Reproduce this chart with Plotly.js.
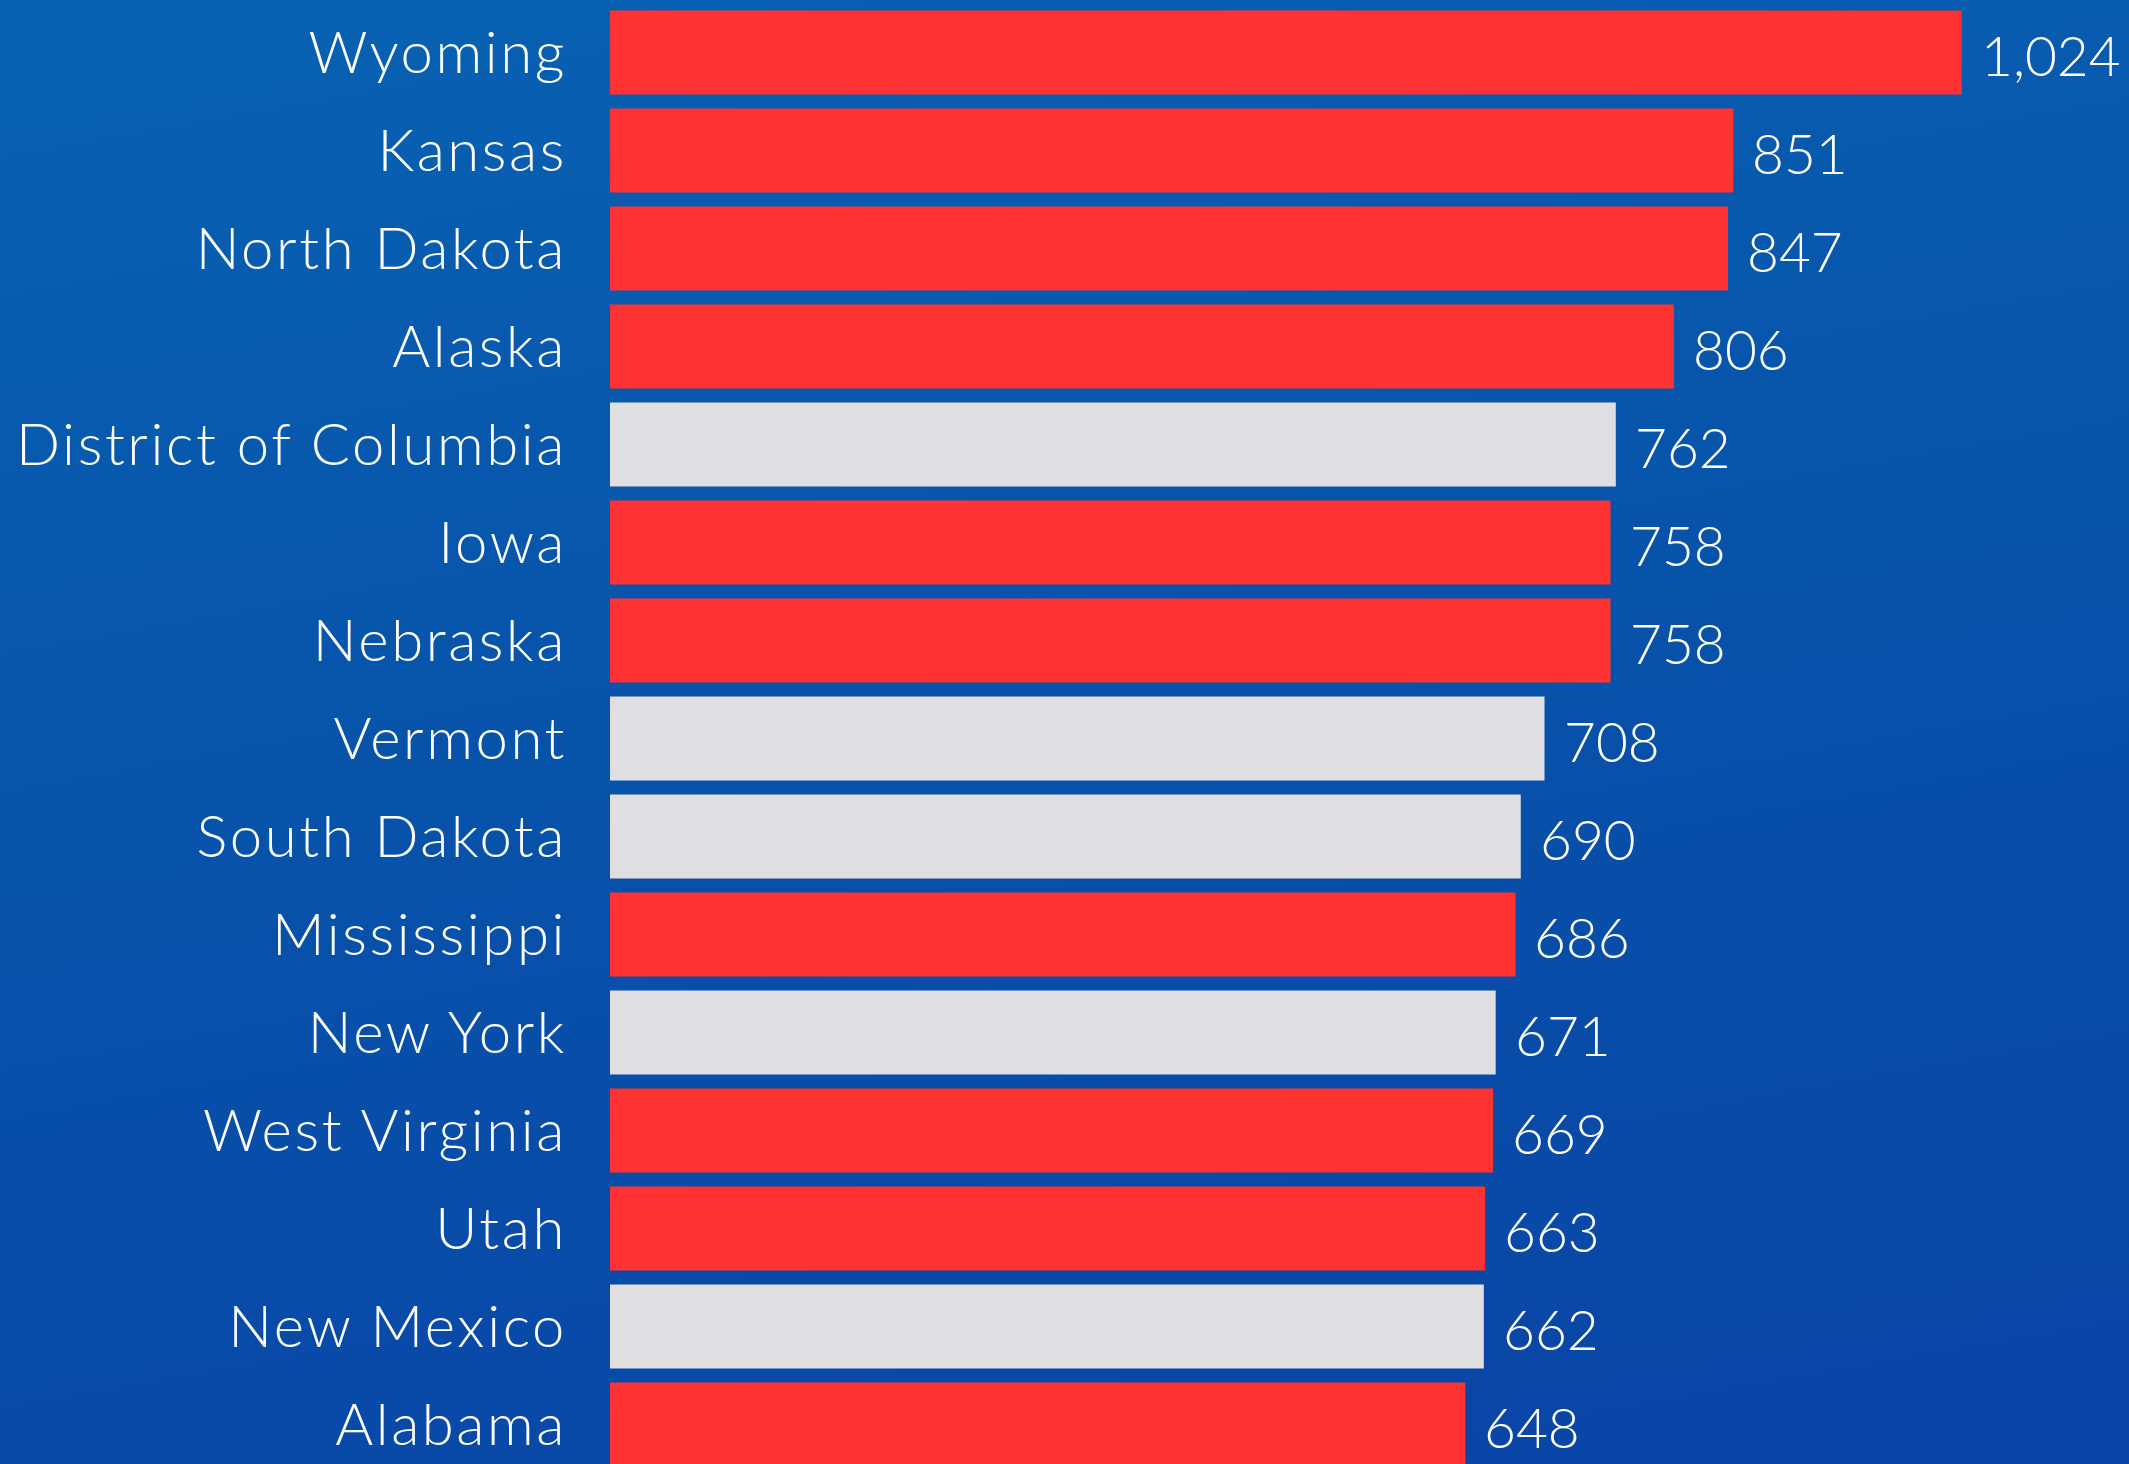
<!DOCTYPE html>
<html>
<head>
<meta charset="utf-8">
<script src="https://cdn.plot.ly/plotly-3.0.1.min.js"></script>
<style>
  html, body { margin: 0; padding: 0; width: 2129px; height: 1464px; overflow: hidden; }
  body { background: linear-gradient(170deg, #0862b2 0%, #0753aa 45%, #0a44a6 100%); }
  #chart { width: 2129px; height: 1464px; }
  .ytick text { letter-spacing: 2.6px; }
</style>
</head>
<body>
<div id="chart"></div>
<script>
const states = ["Wyoming", "Kansas", "North Dakota", "Alaska", "District of Columbia", "Iowa", "Nebraska",
  "Vermont", "South Dakota", "Mississippi", "New York", "West Virginia", "Utah", "New Mexico", "Alabama"];
const values = [1024, 851, 847, 806, 762, 758, 758, 708, 690, 686, 671, 669, 663, 662, 648];
const group = ["red", "red", "red", "red", "other", "red", "red", "other", "other", "red", "other", "red", "red", "other", "red"];

const colorMap = { red: "#ff3333", other: "#dfdee0" };
const font = "Lato, 'Noto Sans', sans-serif";

const trace = {
  type: "bar",
  orientation: "h",
  x: values,
  y: states,
  marker: { color: group.map(g => colorMap[g]), line: { width: 0 } },
  hoverinfo: "none"
};

const annotations = states.map((s, i) => ({
  x: values[i],
  y: s,
  xref: "x",
  yref: "y",
  text: values[i].toLocaleString("en-US"),
  showarrow: false,
  xanchor: "left",
  yanchor: "middle",
  xshift: 17,
  yshift: -2,
  font: { family: font, size: 55, weight: 300, color: "#ffffff" }
}));

const layout = {
  width: 2129,
  height: 1464,
  margin: { l: 610, r: 0, t: 0, b: 0, pad: 0 },
  paper_bgcolor: "rgba(0,0,0,0)",
  plot_bgcolor: "rgba(0,0,0,0)",
  bargap: 0.143,
  showlegend: false,
  xaxis: {
    range: [0, 1150.8],
    visible: false,
    showgrid: false,
    zeroline: false,
    fixedrange: true
  },
  yaxis: {
    type: "category",
    range: [14.403, -0.536],
    showgrid: false,
    zeroline: false,
    showline: false,
    ticks: "",
    ticklabelstandoff: 42,
    tickfont: { family: font, size: 58, weight: 300, color: "#ffffff" },
    fixedrange: true
  },
  annotations: annotations
};

Plotly.newPlot("chart", [trace], layout, { displayModeBar: false, staticPlot: true });
</script>
</body>
</html>
